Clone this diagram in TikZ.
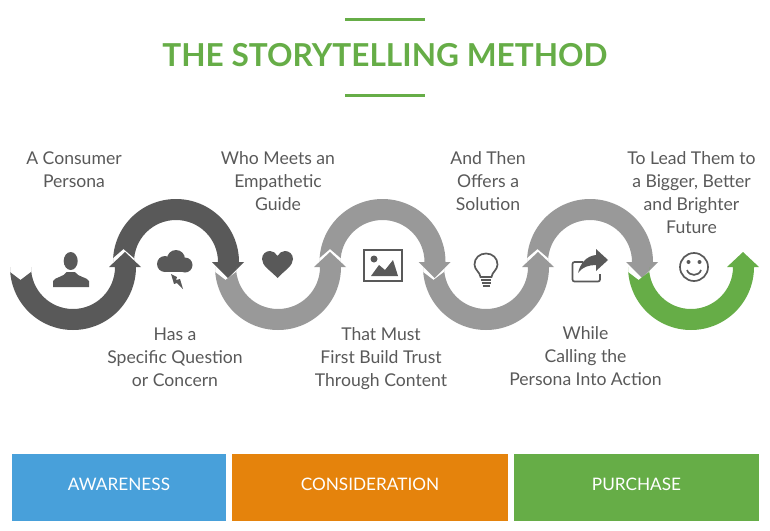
\documentclass[tikz,border=0pt]{standalone}
\usepackage{fontspec}
\setmainfont{Lato}
\usepackage{xcolor}
\definecolor{darkarc}{HTML}{595959}
\definecolor{grayarc}{HTML}{999999}
\definecolor{greenarc}{HTML}{66AD47}
\definecolor{bluebar}{HTML}{48A0DA}
\definecolor{orangebar}{HTML}{E5830C}
\tikzstyle{caption} = [align=center, text=darkarc, inner sep=0pt, font=\fontsize{17.6}{23}\selectfont]
\tikzstyle{stagebar} = [rectangle, inner sep=0pt, minimum height=66.5pt, text depth=6pt, text=white, font=\fontsize{17.2}{20}\selectfont]
\tikzstyle{rule} = [greenarc, line width=3pt]
\tikzstyle{iconline} = [darkarc, line width=1.7pt]
% arc below the axis: colour, centre x
\newcommand{\lowarc}[2]{
\fill [#1] (#2-63,272) -- (#2-63,267) arc[start angle=180, end angle=0, radius=63] -- (#2+68,267) -- (#2+52,252) -- (#2+36,267) -- (#2+42,267) arc[start angle=0, end angle=180, radius=42] -- (#2-42,272) -- (#2-52.5,280) -- cycle;
}
% arc above the axis: colour, centre x
\newcommand{\higharc}[2]{
\fill [#1] (#2-63,258) -- (#2-63,262) arc[start angle=180, end angle=360, radius=63] -- (#2+68,262) -- (#2+52,278) -- (#2+36,262) -- (#2+42,262) arc[start angle=360, end angle=180, radius=42] -- (#2-42,258) -- (#2-52.5,249) -- cycle;
}
\begin{document}
\begin{tikzpicture}[x=1pt, y=-1pt, node distance=100pt]
\useasboundingbox (0,0) rectangle (770,530);

\node (title) [text=greenarc, inner sep=0pt, font=\fontsize{31.6}{36}\selectfont\bfseries] at (385,55) {THE STORYTELLING METHOD};
\draw [rule] (345,19) -- (425,19);
\draw [rule] (345,95) -- (425,95);

\lowarc{darkarc}{73}
\higharc{darkarc}{176}
\lowarc{grayarc}{278}
\higharc{grayarc}{382.5}
\lowarc{grayarc}{486}
\higharc{grayarc}{590}
\lowarc{greenarc}{691}

\node (consumer) [caption] at (74,169.5) {A Consumer\\Persona};
\node (question) [caption, right of=consumer, xshift=1pt, yshift=-187.5pt] {Has a\\Specific Question\\or Concern};
\node (guide) [caption, right of=question, xshift=3pt, yshift=176pt] {Who Meets an\\Empathetic\\Guide};
\node (trust) [caption, right of=guide, xshift=3pt, yshift=-177.5pt] {That Must\\First Build Trust\\Through Content};
\node (solution) [caption, right of=trust, xshift=7pt, yshift=177.5pt] {And Then\\Offers a\\Solution};
\node (action) [caption, right of=solution, xshift=-2.5pt, yshift=-175pt] {While\\Calling the\\Persona Into Action};
\node (future) [caption, right of=action, xshift=6pt, yshift=163.5pt] {To Lead Them to\\a Bigger, Better\\and Brighter\\Future};

% icons
\fill [darkarc] (70.7,261) ellipse [x radius=7, y radius=9];
\fill [darkarc] (53,287) -- (53,281) .. controls (55,277) and (64,277) .. (66.5,272) -- (75,272) .. controls (77.5,277) and (87,277) .. (89,281) -- (89,287) -- cycle;

\fill [darkarc] (165,264) circle [radius=8];
\fill [darkarc] (176,259) circle [radius=9];
\fill [darkarc] (185,265) circle [radius=7.5];
\fill [darkarc] (165,264) rectangle (185,272);
\fill [darkarc] (171,274) -- (177,277) -- (176,280) -- (180,279) -- (183,289) -- (177,283) -- (174,284) -- cycle;

\fill [darkarc] (277.5,278) .. controls (270,270) and (262,266) .. (262,259) .. controls (262,254) and (266,251) .. (270,251) .. controls (273,251) and (276,253) .. (277.5,256) .. controls (279,253) and (282,251) .. (285,251) .. controls (289,251) and (293,254) .. (293,259) .. controls (293,266) and (285,270) .. (277.5,278) -- cycle;

\draw [iconline] (364,250) rectangle (402,281);
\fill [darkarc] (374,259) circle [radius=3.5];
\fill [darkarc] (371,276) -- (379,265) -- (385,270) -- (393,260) -- (398,276) -- cycle;

\draw [iconline] (480.5,277) .. controls (480,272) and (474.5,270) .. (474.5,264.5) .. controls (474.5,258) and (479.5,253.5) .. (486,253.5) .. controls (492.5,253.5) and (497.5,258) .. (497.5,264.5) .. controls (497.5,270) and (492,272) .. (491.5,277) -- cycle;
\draw [darkarc, line width=1.3pt] (481,280) -- (491,280);
\draw [darkarc, line width=1.3pt] (481.5,283) -- (490.5,283);
\draw [darkarc, line width=1.3pt] (482.5,286) -- (489.5,286);

\draw [iconline, rounded corners=2pt] (583,262) -- (572.5,262) -- (572.5,281.5) -- (600,281.5) -- (600,274);
\fill [darkarc] (608,260) -- (596,249) -- (596,255) .. controls (586,256) and (580,264) .. (578,273) .. controls (582,267) and (589,265) .. (596,265) -- (596,271) -- cycle;

\draw [iconline] (694,267) circle [radius=14];
\fill [darkarc] (688.5,262) circle [radius=2];
\fill [darkarc] (699.5,262) circle [radius=2];
\draw [iconline] (687,270) .. controls (689,276.5) and (699,276.5) .. (701,270);

% stages
\node (awareness) [stagebar, fill=bluebar, minimum width=214pt] at (119,487.5) {AWARENESS};
\node (consideration) [stagebar, fill=orangebar, minimum width=276.5pt] at (370,487.5) {CONSIDERATION};
\node (purchase) [stagebar, fill=greenarc, minimum width=245pt] at (636.5,487.5) {PURCHASE};
\end{tikzpicture}
\end{document}
